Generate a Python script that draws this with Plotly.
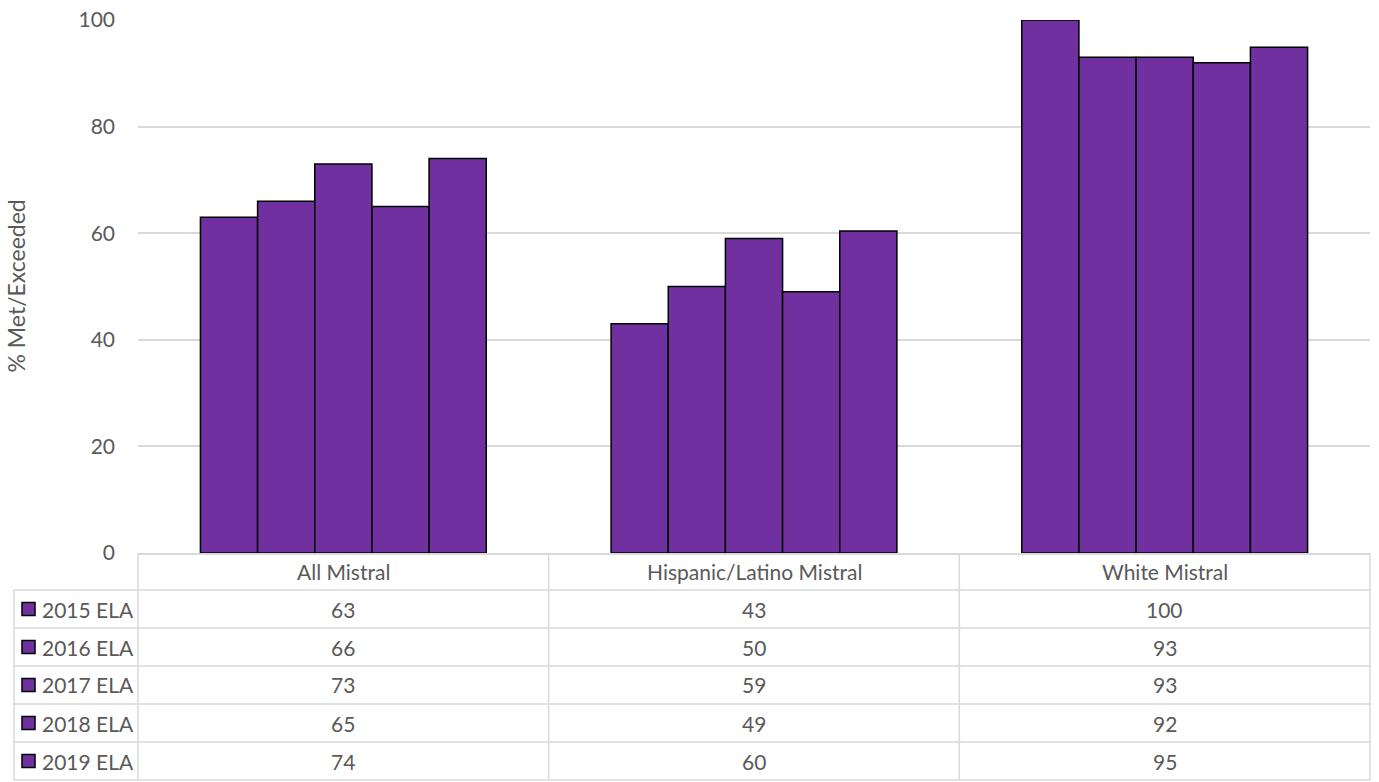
import plotly.graph_objects as go

categories = ["All Mistral", "Hispanic/Latino Mistral", "White Mistral"]
series_names = ["2015 ELA", "2016 ELA", "2017 ELA", "2018 ELA", "2019 ELA"]
v2015 = [63, 43, 100]
v2016 = [66, 50, 93]
v2017 = [73, 59, 93]
v2018 = [65, 49, 92]
v2019 = [74, 60.4, 94.9]
series_values = [v2015, v2016, v2017, v2018, v2019]
y_ticks = [0, 20, 40, 60, 80, 100]

W, H = 1379, 782
L, R, T, B = 138, 9, 20, 229
PW, PH = W - L - R, H - T - B
BAR = "#7030A0"
GRID = "#d9d9d9"
TXT = "#595959"
FONT = "Lato"
FS = 21

def px_x(px):
    return (px - L) / PW

def px_y(py):
    return (H - B - py) / PH

fig = go.Figure()
for name, vals in zip(series_names, series_values):
    fig.add_trace(go.Bar(x=categories, y=vals, name=name,
                         marker=dict(color=BAR, line=dict(color="black", width=1.5)),
                         showlegend=False))

shapes = []
annotations = []
ncat = len(categories)
row_h = 38
header_top, header_bot = 553, 590
row_tops = [header_bot + i * row_h for i in range(len(series_names))]
table_bot = row_tops[-1] + row_h
left_col = 14
line = dict(color=GRID, width=1.5)

# horizontal lines
for yy in [header_bot] + [t + row_h for t in row_tops]:
    shapes.append(dict(type="line", xref="paper", yref="paper", x0=px_x(left_col), x1=1,
                       y0=px_y(yy), y1=px_y(yy), line=line))
# vertical lines
for i in range(ncat + 1):
    xp = i / ncat
    shapes.append(dict(type="line", xref="paper", yref="paper", x0=xp, x1=xp,
                       y0=px_y(header_top), y1=px_y(table_bot), line=line))
shapes.append(dict(type="line", xref="paper", yref="paper", x0=px_x(left_col), x1=px_x(left_col),
                   y0=px_y(header_bot), y1=px_y(table_bot), line=line))

# header texts
for i, c in enumerate(categories):
    annotations.append(dict(text=c, xref="paper", yref="paper", x=(i + 0.5) / ncat,
                            y=px_y((header_top + header_bot) / 2), showarrow=False,
                            xanchor="center", yanchor="middle",
                            font=dict(family=FONT, size=FS, color=TXT)))
# rows
for r, (name, vals) in enumerate(zip(series_names, series_values)):
    cy = row_tops[r] + row_h / 2
    shapes.append(dict(type="rect", xref="paper", yref="paper", x0=px_x(22), x1=px_x(35),
                       y0=px_y(cy - 6.5), y1=px_y(cy + 6.5), fillcolor=BAR,
                       line=dict(color="black", width=1.5)))
    annotations.append(dict(text=name, xref="paper", yref="paper", x=px_x(40), y=px_y(cy),
                            showarrow=False, xanchor="left", yanchor="middle",
                            font=dict(family=FONT, size=FS, color=TXT)))
    for i, v in enumerate(vals):
        annotations.append(dict(text=f"{round(v)}", xref="paper", yref="paper",
                                x=(i + 0.5) / ncat, y=px_y(cy), showarrow=False,
                                xanchor="center", yanchor="middle",
                                font=dict(family=FONT, size=FS, color=TXT)))

annotations.append(dict(text="% Met/Exceeded", xref="paper", yref="paper", x=px_x(15),
                        y=0.5, textangle=-90, showarrow=False, xanchor="center",
                        yanchor="middle", font=dict(family=FONT, size=23, color=TXT)))

fig.update_layout(
    width=W, height=H,
    margin=dict(l=L, r=R, t=T, b=B, autoexpand=False),
    paper_bgcolor="white", plot_bgcolor="white",
    barmode="group", bargap=0.304, bargroupgap=0,
    shapes=shapes, annotations=annotations,
    font=dict(family=FONT, size=FS, color=TXT),
    xaxis=dict(showticklabels=False, showgrid=False, showline=True, linecolor=GRID,
               linewidth=1.5, ticks="", zeroline=False),
    yaxis=dict(range=[0, 100], tickvals=y_ticks, showgrid=True, gridcolor=GRID,
               gridwidth=1.5, zeroline=False, showline=False, ticks="",
               ticklabelstandoff=22, tickfont=dict(family=FONT, size=FS, color=TXT)),
)
fig.write_html("out.html")
